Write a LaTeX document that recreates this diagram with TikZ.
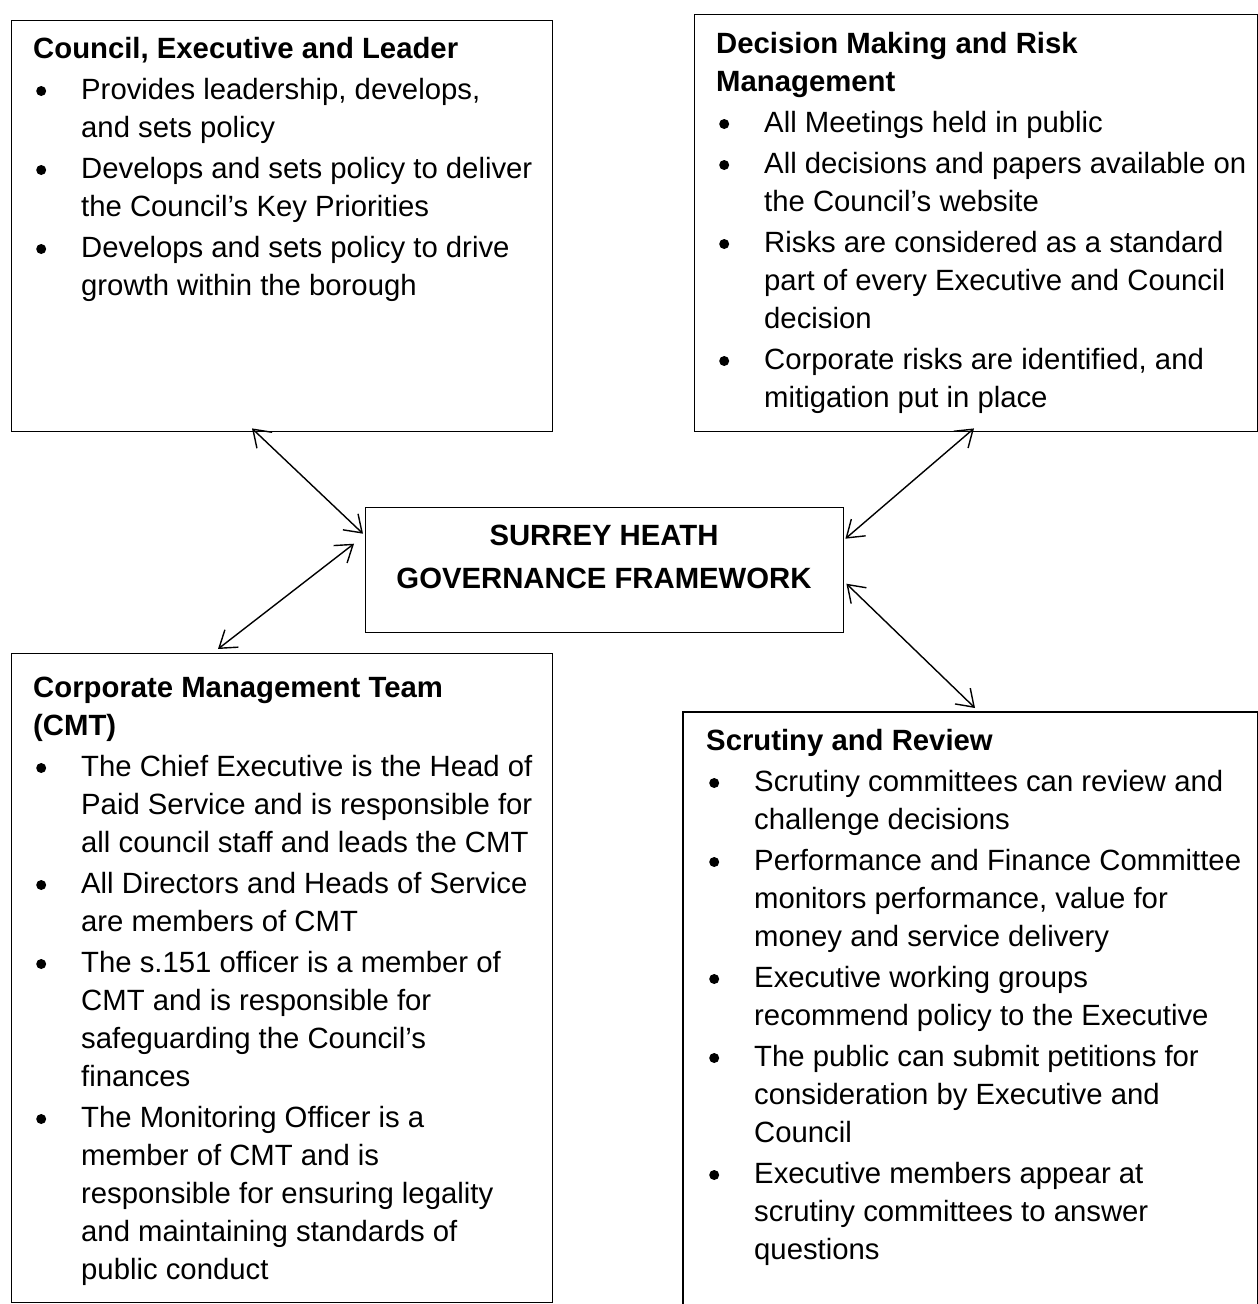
\documentclass[tikz,border=0pt]{standalone}
\usepackage{fontspec}
\setmainfont{Liberation Sans}
\usetikzlibrary{arrows.meta}
\newcommand\bulletdot{\tikz[baseline=0pt]{\useasboundingbox (0pt,0pt) rectangle (14pt,1pt);\fill (8pt,8pt) circle (5pt);}}
\newcommand\bul{\par\vspace{3pt}\hangindent=48pt\hangafter=1\noindent\makebox[48pt][l]{\bulletdot}\ignorespaces}
\newcommand\boxtext[1]{\parbox[t]{580pt}{\fontsize{29.3pt}{38pt}\selectfont #1\par}}
\begin{document}
\begin{tikzpicture}[x=1pt,y=-1pt,
  boxline/.style={draw, line width=1.4pt},
  frame/.style={boxline, rectangle, inner sep=0pt, anchor=north west},
  openframe/.style={rectangle, inner sep=0pt, anchor=north west},
  txt/.style={inner sep=0pt, anchor=base west},
  link/.style={line width=1.4pt, {Straight Barb[length=16pt,width=22pt]}-{Straight Barb[length=16pt,width=22pt]}}]
\useasboundingbox (0,0) rectangle (1258,1304);

% boxes
\node[frame, minimum width=541pt, minimum height=411pt] (council) at (11,20) {};
\node[frame, minimum width=563pt, minimum height=417pt] (decision) at (694,14) {};
\node[frame, minimum width=478pt, minimum height=125pt] (center) at (365,507) {};
\node[frame, minimum width=541pt, minimum height=649pt] (cmt) at (11,653) {};
\node[openframe, minimum width=574pt, minimum height=592pt] (scrutiny) at (683,712) {};
\draw[boxline] (scrutiny.south west) |- (scrutiny.north east) -- (scrutiny.south east);

% texts
\node[txt] (councilT) at (33,58) {\boxtext{%
{\bfseries Council, Executive and Leader}
\bul Provides leadership, develops,\\and sets policy
\bul Develops and sets policy to deliver\\the Council’s Key Priorities
\bul Develops and sets policy to drive\\growth within the borough}};

\node[txt] (decisionT) at (716,53) {\boxtext{%
{\bfseries Decision Making and Risk\\Management}
\bul All Meetings held in public
\bul All decisions and papers available on\\the Council’s website
\bul Risks are considered as a standard\\part of every Executive and Council\\decision
\bul Corporate risks are identified, and\\mitigation put in place}};

\node[txt] (cmtT) at (33,697) {\boxtext{%
{\bfseries Corporate Management Team\\(CMT)}
\bul The Chief Executive is the Head of\\Paid Service and is responsible for\\all council staff and leads the CMT
\bul All Directors and Heads of Service\\are members of CMT
\bul The s.151 officer is a member of\\CMT and is responsible for\\safeguarding the Council’s\\finances
\bul The Monitoring Officer is a\\member of CMT and is\\responsible for ensuring legality\\and maintaining standards of\\public conduct}};

\node[txt] (scrutinyT) at (706,750) {\boxtext{%
{\bfseries Scrutiny and Review}
\bul Scrutiny committees can review and\\challenge decisions
\bul Performance and Finance Committee\\monitors performance, value for\\money and service delivery
\bul Executive working groups\\recommend policy to the Executive
\bul The public can submit petitions for\\consideration by Executive and\\Council
\bul Executive members appear at\\scrutiny committees to answer\\questions}};

\node[inner sep=0pt, anchor=base] (centerT) at (604,545) {\parbox[t]{470pt}{\centering\fontsize{29.3pt}{43pt}\selectfont\bfseries SURREY HEATH\\GOVERNANCE FRAMEWORK}};

% connectors
\draw[link] ([xshift=241pt,yshift=4pt]council.south west) -- ([xshift=-2pt,yshift=36.5pt]center.west);
\draw[link] ([xshift=-11pt,yshift=26.5pt]center.west) -- ([xshift=207pt,yshift=4pt]cmt.north west);
\draw[link] ([xshift=280pt,yshift=4pt]decision.south west) -- ([xshift=1pt,yshift=31.5pt]center.east);
\draw[link] ([xshift=2pt,yshift=-13.5pt]center.east) -- ([xshift=292pt,yshift=4pt]scrutiny.north west);
\end{tikzpicture}
\end{document}
